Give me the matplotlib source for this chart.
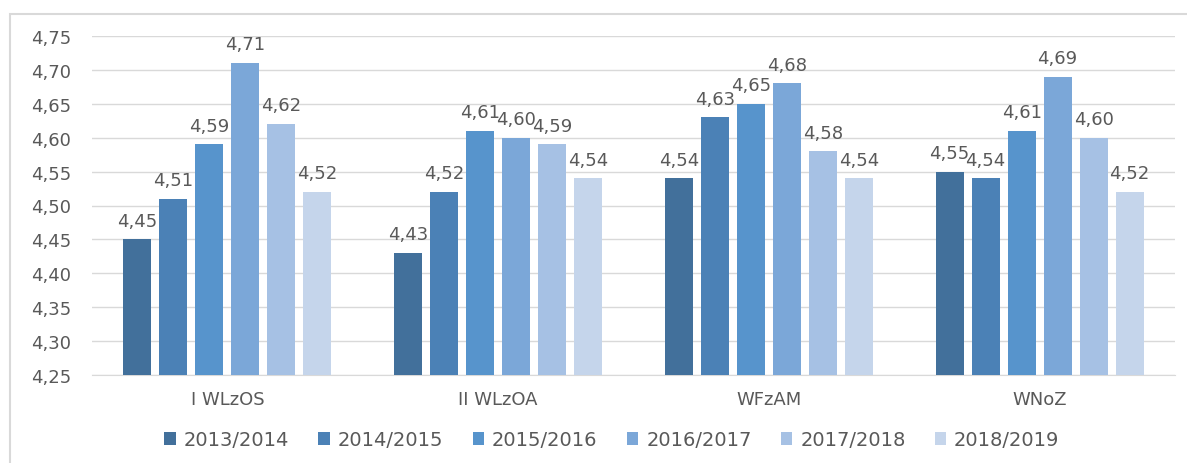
import matplotlib
matplotlib.use('Agg')
import matplotlib.pyplot as plt
import numpy as np
from matplotlib.patches import Rectangle

categories = ['I WLzOS', 'II WLzOA', 'WFzAM', 'WNoZ']
years = ['2013/2014', '2014/2015', '2015/2016', '2016/2017', '2017/2018', '2018/2019']
values = {
    '2013/2014': [4.45, 4.43, 4.54, 4.55],
    '2014/2015': [4.51, 4.52, 4.63, 4.54],
    '2015/2016': [4.59, 4.61, 4.65, 4.61],
    '2016/2017': [4.71, 4.60, 4.68, 4.69],
    '2017/2018': [4.62, 4.59, 4.58, 4.60],
    '2018/2019': [4.52, 4.54, 4.54, 4.52],
}
colors = ['#42709B', '#4B81B6', '#5794CC', '#7BA7D8', '#A6C1E4', '#C5D5EB']
yticks = [4.25, 4.30, 4.35, 4.40, 4.45, 4.50, 4.55, 4.60, 4.65, 4.70, 4.75]

plt.rcParams['font.family'] = ['DejaVu Sans']
text_color = '#595959'

W, H = 1187, 464
fig = plt.figure(figsize=(W / 100, H / 100), dpi=100)
fig.patch.set_facecolor('white')

# outer chart border (only top and left edges are inside the image)
fig.patches.append(Rectangle((10 / W, -0.05), 1.1, (H - 15) / H + 0.05,
                             transform=fig.transFigure, fill=False,
                             edgecolor='#D9D9D9', linewidth=1.5))

ax = fig.add_axes([92 / W, (H - 376) / H, (1175 - 92) / W, (376 - 37) / H])
ax.set_xlim(-0.5, len(categories) - 0.5)
ax.set_ylim(4.25, 4.75)

x = np.arange(len(categories))
stride = 36 / 270.75
width = 28 / 270.75
for i, yr in enumerate(years):
    offs = (i - 2.5) * stride
    ax.bar(x + offs, values[yr], width=width, bottom=0,
           color=colors[i], label=yr, zorder=3)
    for xi, v in zip(x + offs, values[yr]):
        ax.annotate(f'{v:.2f}'.replace('.', ','), (xi, v), xytext=(0, 7),
                    textcoords='offset points', ha='center', va='bottom',
                    fontsize=13, color=text_color)

ax.set_yticks(yticks)
ax.set_yticklabels([f'{t:.2f}'.replace('.', ',') for t in yticks])
ax.set_xticks(x)
ax.set_xticklabels(categories)
ax.tick_params(axis='both', length=0, labelsize=13, colors=text_color)
ax.tick_params(axis='y', pad=15)
ax.tick_params(axis='x', pad=11)
ax.grid(axis='y', color='#D9D9D9', linewidth=1, zorder=0)
for s in ['top', 'right', 'left']:
    ax.spines[s].set_visible(False)
ax.spines['bottom'].set_color('#D9D9D9')

fig.legend(loc='center', bbox_to_anchor=(612 / W, (H - 441) / H), ncol=6,
           frameon=False, fontsize=14, handlelength=0.6, handleheight=0.6,
           handletextpad=0.4, columnspacing=1.5, labelcolor=text_color)

fig.savefig('out.png', dpi=100, facecolor='white')
